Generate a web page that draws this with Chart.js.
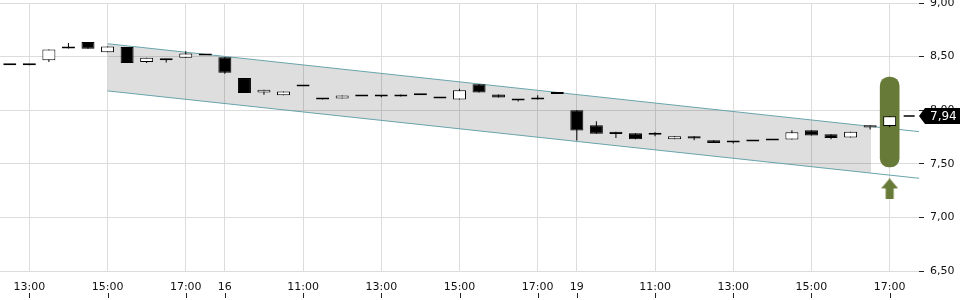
<!DOCTYPE html>
<html lang="de">
  <head>
    <meta charset="UTF-8" />
    <title>Kursverlauf</title>
    <script src="https://cdn.jsdelivr.net/npm/chart.js"></script>
    <style>
      html, body { margin: 0; padding: 0; background: #fff; }
      canvas { display: block; }
    </style>
  </head>
  <body>
    <canvas id="kursChart" width="960" height="300"></canvas>

    <script>
      // 30 minute candles, slot index 0 = 12:30 on the first day
      const opens  = [8.42, 8.42, 8.465, 8.595, 8.636, 8.54, 8.59, 8.45, 8.465, 8.49, 8.51,
                      8.495, 8.30, 8.165, 8.14, 8.22, 8.112, 8.11, 8.128, 8.128, 8.128, 8.14, 8.11, 8.10, 8.243, 8.147, 8.103, 8.112, 8.15,
                      8.00, 7.86, 7.80, 7.785, 7.77, 7.73, 7.757, 7.72, 7.698, 7.707, 7.717, 7.726, 7.813, 7.776, 7.745, 7.838, 7.853];
      const highs  = [8.42, 8.43, 8.567, 8.626, 8.636, 8.595, 8.59, 8.49, 8.48, 8.55, 8.51,
                      8.495, 8.30, 8.19, 8.175, 8.22, 8.112, 8.137, 8.128, 8.14, 8.147, 8.14, 8.11, 8.20, 8.243, 8.147, 8.103, 8.14, 8.15,
                      8.00, 7.897, 7.80, 7.785, 7.795, 7.757, 7.757, 7.72, 7.705, 7.707, 7.717, 7.813, 7.813, 7.776, 7.80, 7.86, 7.944];
      const lows   = [8.42, 8.42, 8.45, 8.575, 8.573, 8.54, 8.44, 8.44, 8.445, 8.49, 8.51,
                      8.34, 8.16, 8.145, 8.14, 8.22, 8.10, 8.11, 8.128, 8.12, 8.128, 8.14, 8.11, 8.10, 8.165, 8.118, 8.08, 8.10, 8.15,
                      7.717, 7.78, 7.74, 7.73, 7.757, 7.73, 7.72, 7.694, 7.69, 7.707, 7.717, 7.726, 7.764, 7.729, 7.745, 7.82, 7.84];
      const closes = [8.42, 8.42, 8.567, 8.575, 8.573, 8.595, 8.44, 8.49, 8.465, 8.53, 8.51,
                      8.35, 8.16, 8.19, 8.175, 8.22, 8.10, 8.137, 8.128, 8.128, 8.147, 8.14, 8.11, 8.187, 8.165, 8.118, 8.09, 8.10, 8.15,
                      7.81, 7.78, 7.778, 7.73, 7.77, 7.757, 7.735, 7.694, 7.698, 7.707, 7.717, 7.794, 7.764, 7.741, 7.80, 7.86, 7.944];

      // axis labels
      const tickSlots  = [1, 5, 9, 11, 15, 19, 23, 27, 29, 33, 37, 41, 45];
      const tickLabels = ["13:00", "15:00", "17:00", "16", "11:00", "13:00", "15:00", "17:00", "19", "11:00", "13:00", "15:00", "17:00"];

      // trend channel (slot, price)
      const channelTop    = [[5, 8.62], [46.5, 7.80]];
      const channelBottom = [[5, 8.18], [46.5, 7.365]];
      const shadeTop      = [[5, 8.62], [44.05, 7.848]];
      const shadeBottom   = [[5, 8.18], [44.05, 7.413]];

      // signal range and arrow at the last candle
      const signalRange = [7.47, 8.31];
      const arrowPrice = 7.266;

      const GREEN = "#687a37";
      const last = closes.length - 1;
      const pts = (arr) => arr.map(([x, y]) => ({ x, y }));
      const comma = (v) => v.toFixed(2).replace(".", ",");

      // up arrow image used as point style
      const arrowImg = document.createElement("canvas");
      arrowImg.width = 17;
      arrowImg.height = 21;
      const a = arrowImg.getContext("2d");
      a.fillStyle = GREEN;
      a.beginPath();
      a.moveTo(8.5, 0);
      a.lineTo(17, 10);
      a.lineTo(12.5, 10);
      a.lineTo(12.5, 21);
      a.lineTo(4.5, 21);
      a.lineTo(4.5, 10);
      a.lineTo(0, 10);
      a.closePath();
      a.fill();

      const bodies = opens.map((o, i) => ({ x: i, y: [o, closes[i]] }));
      const wicks = lows.map((l, i) => ({ x: i, y: [l, highs[i]] }));
      const bodyColors = opens.map((o, i) => (closes[i] > o ? "#ffffff" : "#000000"));

      // extra marks: price label, short price line, tick marks under the time labels
      const extras = {
        id: "extras",
        afterDraw(chart) {
          const { ctx, scales } = chart;
          const x = scales.x, y = scales.y;
          const area = chart.chartArea;

          ctx.save();
          ctx.strokeStyle = "#222";
          ctx.lineWidth = 1;
          x.ticks.forEach((t) => {
            const px = Math.round(x.getPixelForValue(t.value)) + 0.5;
            ctx.beginPath();
            ctx.moveTo(px, 293);
            ctx.lineTo(px, 298);
            ctx.stroke();
          });

          const py = Math.round(y.getPixelForValue(closes[last]));
          const cx = x.getPixelForValue(last);
          ctx.strokeStyle = "#000";
          ctx.lineWidth = 1.5;
          ctx.beginPath();
          ctx.moveTo(cx + 14, py);
          ctx.lineTo(cx + 25, py);
          ctx.stroke();

          const tip = area.right;
          ctx.fillStyle = "#000";
          ctx.beginPath();
          ctx.moveTo(tip, py);
          ctx.lineTo(tip + 6, py - 8);
          ctx.lineTo(chart.width, py - 8);
          ctx.lineTo(chart.width, py + 8);
          ctx.lineTo(tip + 6, py + 8);
          ctx.closePath();
          ctx.fill();
          ctx.fillStyle = "#fff";
          ctx.font = "12px 'DejaVu Sans'";
          ctx.textBaseline = "middle";
          ctx.fillText(comma(closes[last]), tip + 11, py + 1);
          ctx.restore();
        },
      };

      const config = {
        type: "bar",
        data: {
          datasets: [
            {
              type: "line",
              data: pts(shadeTop),
              borderWidth: 0,
              pointRadius: 0,
              fill: "+1",
              backgroundColor: "rgba(0,0,0,0.13)",
              order: 20,
            },
            {
              type: "line",
              data: pts(shadeBottom),
              borderWidth: 0,
              pointRadius: 0,
              fill: false,
              order: 19,
            },
            {
              type: "line",
              data: pts(channelTop),
              borderColor: "#68a4ab",
              borderWidth: 1,
              pointRadius: 0,
              order: 18,
            },
            {
              type: "line",
              data: pts(channelBottom),
              borderColor: "#68a4ab",
              borderWidth: 1,
              pointRadius: 0,
              order: 17,
            },
            {
              data: [{ x: last, y: signalRange }],
              backgroundColor: GREEN,
              barThickness: 19,
              borderRadius: 9,
              borderSkipped: false,
              grouped: false,
              order: 10,
            },
            {
              type: "line",
              data: [{ x: last, y: arrowPrice }],
              showLine: false,
              pointStyle: arrowImg,
              order: 9,
            },
            {
              data: wicks,
              backgroundColor: "#000",
              barThickness: 1,
              borderWidth: 0,
              grouped: false,
              inflateAmount: 0,
              order: 6,
            },
            {
              data: bodies,
              backgroundColor: bodyColors,
              borderColor: "#000",
              borderWidth: 1,
              borderSkipped: false,
              barThickness: 13,
              minBarLength: 2,
              grouped: false,
              inflateAmount: 0,
              order: 5,
            },
          ],
        },
        options: {
          responsive: false,
          animation: false,
          layout: { autoPadding: false, padding: { top: 3, left: 0, right: 0, bottom: 0 } },
          plugins: {
            legend: { display: false },
            tooltip: { enabled: false },
          },
          scales: {
            x: {
              type: "linear",
              min: -0.5,
              max: 46.5,
              offset: false,
              grid: { color: "#dcdcdc", offset: false, drawTicks: false },
              border: { display: false },
              afterBuildTicks: (scale) => {
                scale.ticks = tickSlots.map((v) => ({ value: v }));
              },
              afterFit: (scale) => {
                scale.height = 29;
                scale.paddingLeft = 0;
                scale.paddingRight = 0;
              },
              ticks: {
                autoSkip: false,
                maxRotation: 0,
                padding: 10,
                color: "#111",
                font: { family: "DejaVu Sans", size: 11 },
                callback: (v) => tickLabels[tickSlots.indexOf(v)],
              },
            },
            y: {
              position: "right",
              min: 6.5,
              max: 9.0,
              grid: { color: "#dcdcdc", tickColor: "#222", tickLength: 5 },
              border: { display: false },
              afterFit: (scale) => {
                scale.width = 41;
                scale.paddingTop = 0;
                scale.paddingBottom = 0;
              },
              ticks: {
                stepSize: 0.5,
                padding: 6,
                color: "#111",
                font: { family: "DejaVu Sans", size: 11 },
                callback: (v) => comma(v),
              },
            },
          },
        },
        plugins: [extras],
      };

      const kursChart = new Chart(document.getElementById("kursChart"), config);
    </script>
  </body>
</html>
